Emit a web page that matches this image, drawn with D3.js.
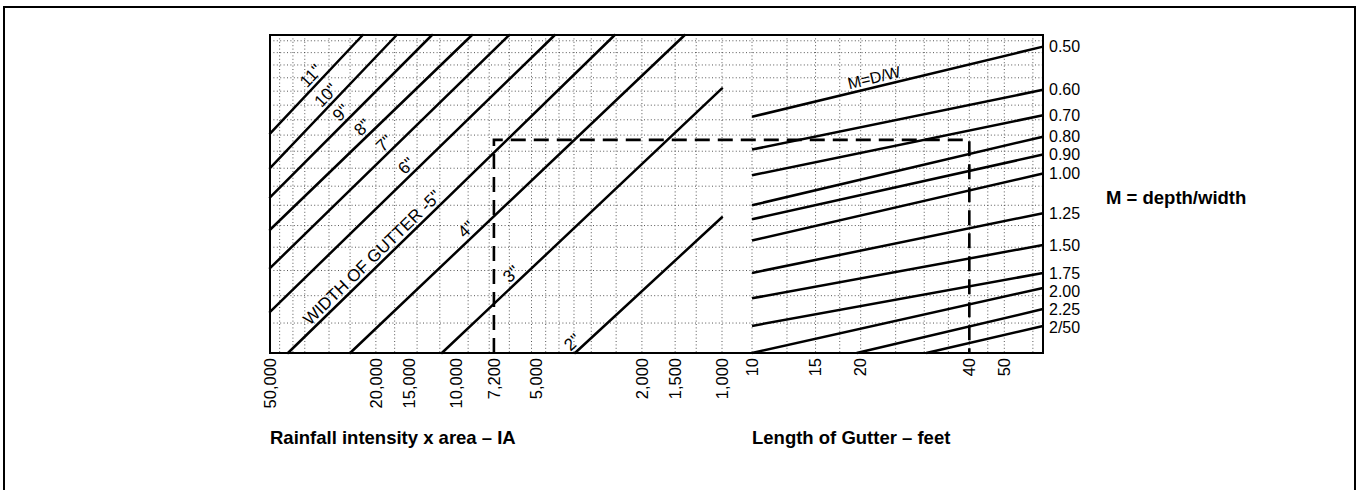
<!DOCTYPE html>
<html>
<head>
<meta charset="utf-8">
<script src="https://cdn.jsdelivr.net/npm/d3@7"></script>
<style>
  html, body { margin: 0; padding: 0; background: #fff; }
  svg { display: block; }
  text { font-family: "Liberation Sans", Arial, Helvetica, sans-serif; fill: #000; }
</style>
</head>
<body>
<div id="chart"></div>
<script>
// gutter sizing nomograph: IA + width of gutter -> turning line -> M lines -> length

// left panel: rainfall intensity x area (log, reversed)
const iaTicks = [50000, 20000, 15000, 10000, 7200, 5000, 2000, 1500, 1000];
const iaGrid = [46000, 41000, 37000, 30000, 25000, 20000, 17000, 14000, 11500, 9000, 7500,
  6300, 5200, 4600, 4100, 3600, 3100, 2500, 2000, 1500, 1250, 1000];

// right panel: length of gutter, feet (log)
const lenTicks = [10, 15, 20, 40, 50];
const lenGrid = [10, 12.5, 15, 17.5, 20, 25, 30, 35, 40, 45, 50, 60];

// hidden reference axis shared by both panels
const qGrid = [11, 12, 13, 14, 15, 16, 17, 18, 19, 20, 21, 22, 23, 24, 25, 26, 27];

// width of gutter lines: [IA, q] at each end
const widthNames = ['11"', '10"', '9"', '8"', '7"', '6"', 'WIDTH OF GUTTER -5"', '4"', '3"', '2"'];
const widthStart = [[50000, 20.1], [50000, 18.0], [50000, 16.4], [50000, 14.8], [50000, 13.1],
  [50000, 11.4], [42800, 10], [25000, 10], [11300, 10], [3570, 10]];
const widthEnd = [[22400, 27.5], [16700, 27.5], [12300, 27.5], [8700, 27.5], [6300, 27.5],
  [4250, 27.5], [2530, 27.5], [1380, 27.5], [1000, 23.2], [1000, 15.4]];
const widthLabelAt = [33000, 29000, 25500, 21200, 17550, 14500, 19500, 8630, 5850, 3450];

// M = depth/width lines: [length, q] at each end
const mNames = ['0.50', '0.60', '0.70', '0.80', '0.90', '1.00', '1.25', '1.50', '1.75', '2.00', '2.25', '2/50'];
const mStart = [[10, 21.2], [10, 19.1], [10, 17.6], [10, 16.0], [10, 15.3], [10, 14.3],
  [10, 12.9], [10, 11.9], [10, 10.9], [10, 10.0], [19.5, 10], [30.4, 10]];
const mEnd = [[64, 26.5], [64, 23.1], [64, 21.3], [64, 19.9], [64, 18.8], [64, 17.7],
  [64, 15.6], [64, 14.1], [64, 12.9], [64, 12.3], [64, 11.5], [64, 10.9]];
const mLabelAt = 22.1;

// worked example (dashed)
const exIA = 7200, exLen = 40, exQ = 19.7;

const W = 1359, H = 490;
const C = { ink: '#000', grid: '#444' };

const svg = d3.select('#chart').append('svg').attr('width', W).attr('height', H);

const x = d3.scaleLog().domain([50000, 1000]).range([270, 722]);
const xL = d3.scaleLog().domain([10, 64]).range([752, 1043]);
const y = d3.scaleLog().domain([10, 27.5]).range([353, 35]);
const pTop = y(27.5), pBot = y(10);
const pLeft = x(50000), pRight = xL(64);

// outer page frame
svg.append('rect').attr('x', 4).attr('y', 7).attr('width', W - 8).attr('height', H + 20)
  .attr('fill', 'none').attr('stroke', C.ink).attr('stroke-width', 2);

// grid
const grid = svg.append('g').attr('stroke', C.grid).attr('stroke-width', 0.9)
  .attr('stroke-dasharray', '1,2.4').attr('fill', 'none');
grid.selectAll('line.v1').data(iaGrid).enter().append('line')
  .attr('x1', d => x(d)).attr('x2', d => x(d)).attr('y1', pTop).attr('y2', pBot);
grid.selectAll('line.v2').data(lenGrid).enter().append('line')
  .attr('x1', d => xL(d)).attr('x2', d => xL(d)).attr('y1', pTop).attr('y2', pBot);
grid.selectAll('line.h').data(qGrid).enter().append('line')
  .attr('x1', pLeft).attr('x2', pRight).attr('y1', d => y(d)).attr('y2', d => y(d));

// plot frame
svg.append('rect').attr('x', pLeft).attr('y', pTop).attr('width', pRight - pLeft).attr('height', pBot - pTop)
  .attr('fill', 'none').attr('stroke', C.ink).attr('stroke-width', 2);

// width of gutter lines
const wg = svg.append('g');
widthNames.forEach((name, i) => {
  const x0 = x(widthStart[i][0]), y0 = y(widthStart[i][1]);
  const x1 = x(widthEnd[i][0]), y1 = y(widthEnd[i][1]);
  wg.append('line').attr('x1', x0).attr('y1', y0).attr('x2', x1).attr('y2', y1)
    .attr('stroke', C.ink).attr('stroke-width', 2.5).attr('stroke-linecap', 'round');
  const lx = x(widthLabelAt[i]);
  const ly = y0 + (lx - x0) * (y1 - y0) / (x1 - x0);
  const ang = Math.atan2(y1 - y0, x1 - x0) * 180 / Math.PI;
  wg.append('text').attr('transform', `translate(${lx},${ly}) rotate(${ang})`)
    .attr('dy', -4).attr('text-anchor', 'middle').attr('font-size', 17).text(name);
});

// M lines
const mg = svg.append('g');
const MIN_GAP = 18;
// right-hand labels: push down where two ends sit too close
const labY = mEnd.map(d => y(d[1]));
for (let i = 1; i < labY.length; i++) {
  if (labY[i] < labY[i - 1] + MIN_GAP) labY[i] = labY[i - 1] + MIN_GAP;
}
mNames.forEach((name, i) => {
  const x0 = xL(mStart[i][0]), y0 = y(mStart[i][1]);
  const x1 = xL(mEnd[i][0]), y1 = y(mEnd[i][1]);
  mg.append('line').attr('x1', x0).attr('y1', y0).attr('x2', x1).attr('y2', y1)
    .attr('stroke', C.ink).attr('stroke-width', 2.5);
  mg.append('text').attr('x', x1 + 6).attr('y', labY[i]).attr('dy', '0.35em')
    .attr('font-size', 16).text(name);
  if (i === 0) {
    const lx = xL(mLabelAt);
    const ly = y0 + (lx - x0) * (y1 - y0) / (x1 - x0);
    const ang = Math.atan2(y1 - y0, x1 - x0) * 180 / Math.PI;
    mg.append('text').attr('transform', `translate(${lx},${ly}) rotate(${ang})`)
      .attr('dy', -4).attr('text-anchor', 'middle').attr('font-size', 16).text('M=D/W');
  }
});

// worked example path
svg.append('path')
  .attr('d', d3.line()([[x(exIA), pBot], [x(exIA), y(exQ)], [xL(exLen), y(exQ)], [xL(exLen), pBot]]))
  .attr('fill', 'none').attr('stroke', C.ink).attr('stroke-width', 2.6)
  .attr('stroke-dasharray', '15,8');

// bottom tick labels
const fmtIA = d3.format(',');
svg.append('g').selectAll('text').data(iaTicks).enter().append('text')
  .attr('transform', d => `translate(${x(d)},${pBot + 5}) rotate(-90)`)
  .attr('dy', '0.35em').attr('text-anchor', 'end').attr('font-size', 16.5).text(fmtIA);
svg.append('g').selectAll('text').data(lenTicks).enter().append('text')
  .attr('transform', d => `translate(${xL(d)},${pBot + 5}) rotate(-90)`)
  .attr('dy', '0.35em').attr('text-anchor', 'end').attr('font-size', 16.5).text(d => d);

// axis titles
svg.append('text').attr('x', pLeft).attr('y', 444).attr('font-size', 18.5).attr('font-weight', 'bold')
  .text('Rainfall intensity x area – IA');
svg.append('text').attr('x', xL(10)).attr('y', 444).attr('font-size', 18.5).attr('font-weight', 'bold')
  .text('Length of Gutter – feet');
svg.append('text').attr('x', pRight + 63).attr('y', 204).attr('font-size', 18.5).attr('font-weight', 'bold')
  .text('M = depth/width');
</script>
</body>
</html>
